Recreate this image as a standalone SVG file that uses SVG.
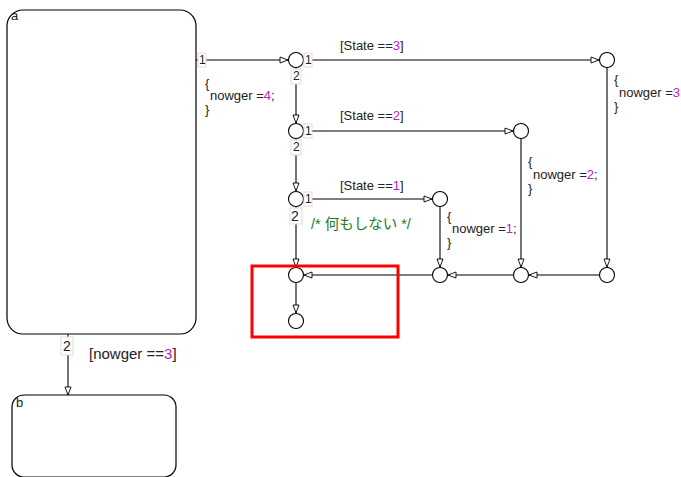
<svg xmlns="http://www.w3.org/2000/svg" width="681" height="477" viewBox="0 0 681 477">
<style>
text{font-family:"Liberation Sans",Arial,sans-serif;font-size:13px;fill:#222}
.st{fill:#fff;stroke:#000;stroke-width:1.2}
.j{fill:#fff;stroke:#000;stroke-width:1.1}
.c{fill:none;stroke:#000;stroke-width:1.1}
.lb{fill:#fff;stroke:#ddd;stroke-width:1}
.m{fill:#c020c0}
.n{font-size:12px}
.g{fill:#1a7a1a;font-size:14.5px;font-family:"Liberation Sans","Noto Sans CJK JP",sans-serif}
</style>
<defs>
<marker id="ah" markerWidth="10" markerHeight="8" refX="9" refY="4" orient="auto" markerUnits="userSpaceOnUse">
<path d="M1,1 L9,4 L1,7 Z" fill="#fff" stroke="#000" stroke-width="0.9"/>
</marker>
</defs>
<g id="state-a"><rect class="st" x="7" y="10" width="189" height="324" rx="16"/><text x="11" y="20">a</text></g>
<g id="state-b"><rect class="st" x="12" y="395" width="164" height="82" rx="12"/><text x="16" y="407">b</text></g>
<g id="connectors">
<path class="c" d="M196,60 H288" marker-end="url(#ah)"/>
<path class="c" d="M304,60 H599" marker-end="url(#ah)"/>
<path class="c" d="M296,68 V123" marker-end="url(#ah)"/>
<path class="c" d="M304,131 H513" marker-end="url(#ah)"/>
<path class="c" d="M296,139 V191" marker-end="url(#ah)"/>
<path class="c" d="M304,199 H432" marker-end="url(#ah)"/>
<path class="c" d="M296,207 V267" marker-end="url(#ah)"/>
<path class="c" d="M607,68 V267" marker-end="url(#ah)"/>
<path class="c" d="M521,139 V267" marker-end="url(#ah)"/>
<path class="c" d="M440,207 V267" marker-end="url(#ah)"/>
<path class="c" d="M599,275 H529" marker-end="url(#ah)"/>
<path class="c" d="M513,275 H448" marker-end="url(#ah)"/>
<path class="c" d="M432,275 H304" marker-end="url(#ah)"/>
<path class="c" d="M296,283 V313" marker-end="url(#ah)"/>
<path class="c" d="M68,334 V395" marker-end="url(#ah)"/>
</g>
<g id="junctions">
<circle class="j" cx="296" cy="60" r="7.5"/>
<circle class="j" cx="296" cy="131" r="7.5"/>
<circle class="j" cx="296" cy="199" r="7.5"/>
<circle class="j" cx="296" cy="275" r="7.5"/>
<circle class="j" cx="296" cy="321" r="7.5"/>
<circle class="j" cx="607" cy="60" r="7.5"/>
<circle class="j" cx="521" cy="131" r="7.5"/>
<circle class="j" cx="440" cy="199" r="7.5"/>
<circle class="j" cx="440" cy="275" r="7.5"/>
<circle class="j" cx="521" cy="275" r="7.5"/>
<circle class="j" cx="607" cy="275" r="7.5"/>
</g>
<g id="labels">
<rect class="lb" x="198" y="53" width="8" height="14"/><text class="n" x="199" y="64">1</text>
<rect class="lb" x="304" y="53" width="8" height="14"/><text class="n" x="305" y="64">1</text>
<rect class="lb" x="291" y="69" width="10" height="15"/><text class="n" x="293" y="80">2</text>
<rect class="lb" x="304" y="124" width="8" height="14"/><text class="n" x="305" y="135">1</text>
<rect class="lb" x="291" y="140" width="10" height="15"/><text class="n" x="293" y="151">2</text>
<rect class="lb" x="304" y="192" width="8" height="14"/><text class="n" x="305" y="203">1</text>
<rect class="lb" x="290" y="208" width="12" height="16"/><text x="291" y="221" style="font-size:14px">2</text>
<rect class="lb" x="61" y="337" width="12" height="18"/><text x="63" y="351" style="font-size:14px">2</text>
<text x="340" y="50">[State ==<tspan class="m">3</tspan>]</text>
<text x="340" y="120">[State ==<tspan class="m">2</tspan>]</text>
<text x="340" y="190">[State ==<tspan class="m">1</tspan>]</text>
<text x="205" y="88">{</text><text x="210" y="100">nowger =<tspan class="m">4</tspan>;</text><text x="205" y="114">}</text>
<text x="614" y="84">{</text><text x="619" y="97">nowger =<tspan class="m">3</tspan>;</text><text x="614" y="111">}</text>
<text x="528" y="166">{</text><text x="533" y="179">nowger =<tspan class="m">2</tspan>;</text><text x="528" y="193">}</text>
<text x="447" y="221">{</text><text x="452" y="233">nowger =<tspan class="m">1</tspan>;</text><text x="447" y="247">}</text>
<text class="g" x="311" y="229">/* 何もしない */</text>
<text x="89" y="359" style="font-size:15px">[nowger ==<tspan class="m">3</tspan>]</text>
</g>
<rect x="252" y="266" width="146" height="71" fill="none" stroke="#f00" stroke-width="3"/>
</svg>
